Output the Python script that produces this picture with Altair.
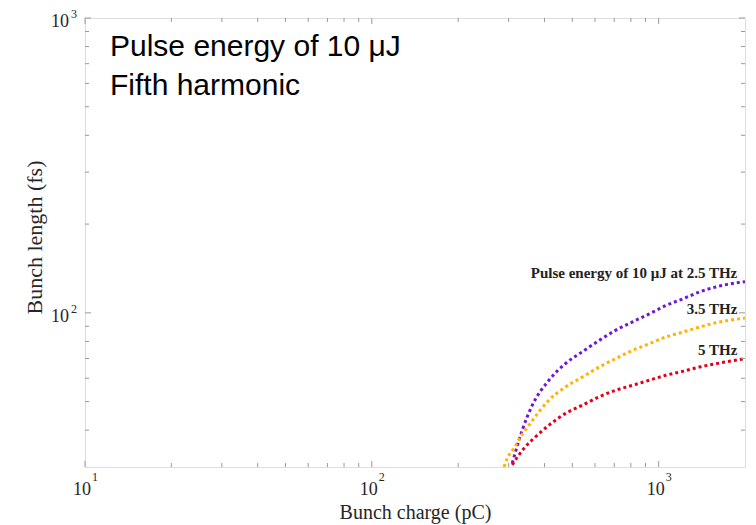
import altair as alt
import pandas as pd

# Bunch length vs. bunch charge for a 10 uJ pulse, fifth harmonic
charge_25 = [308.7, 334.5, 362.6, 414.7, 473, 542, 620, 707, 811, 928, 1058, 1213, 1388, 1582, 2000]
length_25 = [30.9, 40.0, 48.6, 59.1, 67.3, 73.8, 80.6, 87.2, 93.2, 99.2, 105.8, 111.5, 117.7, 122.4, 127.6]

charge_35 = [289, 296.5, 313, 330, 353, 382.6, 414.7, 474, 542, 620, 707, 811, 928, 1058, 1213, 1388, 1582, 2000]
length_35 = [30.0, 32.1, 34.7, 38.0, 41.6, 46.2, 50.6, 56.1, 60.6, 65.5, 69.9, 74.6, 78.6, 82.8, 86.0, 89.5, 92.5, 96.0]

charge_5 = [308.7, 325.8, 343.6, 372.4, 414.7, 474, 542, 620, 707, 811, 928, 1058, 1213, 1388, 1582, 2000]
length_5 = [30.5, 33.0, 35.2, 38.0, 41.6, 45.6, 48.6, 51.9, 54.6, 56.8, 59.1, 61.4, 63.3, 65.5, 67.2, 69.9]

series_names = ["2.5 THz", "3.5 THz", "5 THz"]
series_colors = ["#7015D5", "#FFB400", "#E3001B"]

curve_labels = ["Pulse energy of 10 μJ at 2.5 THz", "3.5 THz", "5 THz"]
curve_label_x = [1880, 1880, 1880]
curve_label_y = [136, 103, 75]

x_major = [10, 100, 1000]
x_exponents = ["1", "2", "3"]
x_minor = [20, 30, 40, 50, 60, 70, 80, 90, 200, 300, 400, 500, 600, 700, 800, 900]
y_major = [100, 1000]
y_exponents = ["2", "3"]
y_minor = [40, 50, 60, 70, 80, 90, 200, 300, 400, 500, 600, 700, 800, 900]

W, H = 660, 449
FRAME = "#9a9a9a"
TEXT = "#262626"
SERIF = "Liberation Serif"

rows = []
for name, xs, ys in [(series_names[0], charge_25, length_25),
                     (series_names[1], charge_35, length_35),
                     (series_names[2], charge_5, length_5)]:
    for i, (a, b) in enumerate(zip(xs, ys)):
        rows.append({"series": name, "charge": a, "length": b, "order": i})
curves = pd.DataFrame(rows)

xscale = alt.Scale(type="log", domain=[10, 2000], nice=False)
yscale = alt.Scale(type="log", domain=[30, 1000], nice=False)

# axes carry only the titles; decade labels are drawn as "10" plus a raised exponent
x_axis = alt.Axis(values=x_major, ticks=False, grid=False, domain=False, labels=False,
                  title="Bunch charge (pC)", titleFont=SERIF, titleFontSize=20,
                  titleFontWeight="normal", titleColor=TEXT,
                  titleY=51, titleBaseline="alphabetic", titleAlign="center")
y_axis = alt.Axis(values=y_major, ticks=False, grid=False, domain=False, labels=False,
                  title="Bunch length (fs)", titleFont=SERIF, titleFontSize=22,
                  titleFontWeight="normal", titleColor=TEXT,
                  titleX=-44, titleY=219, titleAngle=-90, titleBaseline="alphabetic",
                  titleAlign="center")

lines = alt.Chart(curves).mark_line(
    strokeDash=[3, 3], strokeWidth=3, clip=True, interpolate="monotone"
).encode(
    x=alt.X("charge:Q", scale=xscale, axis=x_axis),
    y=alt.Y("length:Q", scale=yscale, axis=y_axis),
    color=alt.Color("series:N", scale=alt.Scale(domain=series_names, range=series_colors), legend=None),
    order="order:Q",
)

xlab = pd.DataFrame({"v": x_major, "e": x_exponents, "b": ["10"] * len(x_major)})
ylab = pd.DataFrame({"v": y_major, "e": y_exponents, "b": ["10"] * len(y_major)})

x_base = alt.Chart(xlab).mark_text(
    align="center", baseline="alphabetic", font=SERIF, fontSize=18, color=TEXT, dx=-3
).encode(x=alt.X("v:Q", scale=xscale), y=alt.value(H + 28), text="b:N")
x_exp = alt.Chart(xlab).mark_text(
    align="left", baseline="alphabetic", font=SERIF, fontSize=12, color=TEXT, dx=7
).encode(x=alt.X("v:Q", scale=xscale), y=alt.value(H + 14), text="e:N")

y_base = alt.Chart(ylab).mark_text(
    align="right", baseline="alphabetic", font=SERIF, fontSize=18, color=TEXT, dy=9
).encode(y=alt.Y("v:Q", scale=yscale), x=alt.value(-16), text="b:N")
y_exp = alt.Chart(ylab).mark_text(
    align="right", baseline="alphabetic", font=SERIF, fontSize=12, color=TEXT, dy=0
).encode(y=alt.Y("v:Q", scale=yscale), x=alt.value(-8), text="e:N")


def xticks(vals, length):
    d = pd.DataFrame({"v": vals})
    base = alt.Chart(d).mark_rule(color=FRAME, strokeWidth=1)
    bottom = base.encode(x=alt.X("v:Q", scale=xscale), y=alt.value(H), y2=alt.value(H - length))
    top = base.encode(x=alt.X("v:Q", scale=xscale), y=alt.value(0), y2=alt.value(length))
    return [bottom, top]


def yticks(vals, length):
    d = pd.DataFrame({"v": vals})
    base = alt.Chart(d).mark_rule(color=FRAME, strokeWidth=1)
    left = base.encode(y=alt.Y("v:Q", scale=yscale), x=alt.value(0), x2=alt.value(length))
    right = base.encode(y=alt.Y("v:Q", scale=yscale), x=alt.value(W), x2=alt.value(W - length))
    return [left, right]


tick_layers = xticks(x_major, 6) + xticks(x_minor, 4) + yticks(y_major, 6) + yticks(y_minor, 4)

labels_df = pd.DataFrame({"t": curve_labels, "x": curve_label_x, "y": curve_label_y})
curve_text = alt.Chart(labels_df).mark_text(
    align="right", baseline="middle", font=SERIF, fontSize=15,
    fontWeight="bold", color="#222222"
).encode(
    x=alt.X("x:Q", scale=xscale),
    y=alt.Y("y:Q", scale=yscale),
    text="t:N",
)

heading = alt.Chart(pd.DataFrame({"t": [["Pulse energy of 10 μJ", "Fifth harmonic"]]})).mark_text(
    align="left", baseline="alphabetic", font="Liberation Sans", fontSize=30,
    lineHeight=39, color="#000000"
).encode(
    x=alt.value(25),
    y=alt.value(38),
    text="t",
)

chart = alt.layer(lines, *tick_layers, x_base, x_exp, y_base, y_exp, curve_text, heading).properties(
    width=W, height=H,
    autosize=alt.AutoSizeParams(type="none"),
    padding={"left": 85, "top": 18, "right": 11, "bottom": 58},
).configure_view(
    stroke=FRAME, strokeWidth=1.2
).configure(background="white")

chart.save("out.html", embed_options={"renderer": "svg", "actions": False})
